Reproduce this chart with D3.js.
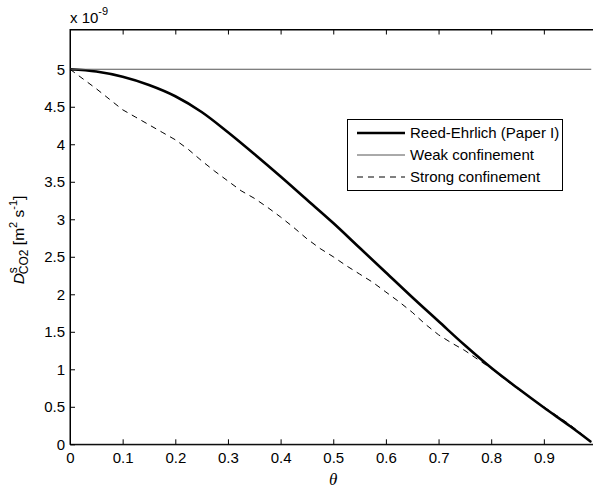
<!DOCTYPE html>
<html>
<head>
<meta charset="utf-8">
<script src="https://cdn.jsdelivr.net/npm/d3@7"></script>
<style>
  html, body { margin: 0; padding: 0; background: #fff; }
  svg { display: block; }
  text { font-family: "Liberation Sans", Arial, sans-serif; fill: #000; }
</style>
</head>
<body>
<svg id="chart" width="593" height="489"></svg>
<script>
// Surface diffusivity of CO2 versus coverage (values in units of 1e-9 m^2/s)
const thetaReed = [0, 0.05, 0.1, 0.15, 0.2, 0.25, 0.3, 0.35, 0.4, 0.45, 0.5, 0.55, 0.6, 0.65, 0.7, 0.75, 0.8, 0.85, 0.9, 0.95, 0.99];
const reedEhrlich = [5.0, 4.97, 4.90, 4.79, 4.64, 4.43, 4.16, 3.87, 3.57, 3.26, 2.95, 2.62, 2.29, 1.96, 1.64, 1.32, 1.02, 0.75, 0.49, 0.24, 0.03];

const thetaWeak = [0, 0.99];
const weakConfinement = [5.0, 5.0];

const thetaStrong = [0, 0.025, 0.05, 0.075, 0.1, 0.125, 0.15, 0.175, 0.2, 0.225, 0.25, 0.275, 0.3, 0.325, 0.35, 0.375, 0.4, 0.425, 0.45, 0.475, 0.5, 0.525, 0.55, 0.575, 0.6, 0.625, 0.65, 0.675, 0.7, 0.725, 0.75, 0.775, 0.8, 0.825, 0.85, 0.875, 0.9, 0.925, 0.95, 0.975, 0.99];
const strongConfinement = [5.0, 4.87, 4.74, 4.6, 4.46, 4.36, 4.26, 4.16, 4.06, 3.93, 3.78, 3.64, 3.51, 3.38, 3.28, 3.16, 3.03, 2.89, 2.74, 2.61, 2.5, 2.38, 2.27, 2.16, 2.03, 1.9, 1.76, 1.6, 1.46, 1.35, 1.25, 1.13, 1.01, 0.87, 0.74, 0.62, 0.5, 0.38, 0.26, 0.12, 0.03];

const xTicks = [0, 0.1, 0.2, 0.3, 0.4, 0.5, 0.6, 0.7, 0.8, 0.9];
const yTicks = [0, 0.5, 1, 1.5, 2, 2.5, 3, 3.5, 4, 4.5, 5];
const legendLabels = ["Reed-Ehrlich (Paper I)", "Weak confinement", "Strong confinement"];

const svg = d3.select("#chart");
const plotLeft = 70, plotRight = 596.5, plotTop = 29.5, plotBottom = 444.3;

const x = d3.scaleLinear().domain([0, 1]).range([plotLeft, plotRight]);
const y = d3.scaleLinear().domain([0, 5.53]).range([plotBottom, plotTop]);
const fmt = d => d3.format("~g")(d);

// plot frame
svg.append("rect")
  .attr("x", plotLeft).attr("y", plotTop)
  .attr("width", plotRight - plotLeft).attr("height", plotBottom - plotTop)
  .attr("fill", "none").attr("stroke", "#000").attr("stroke-width", 1);

// axes with inward ticks
const xAxis = svg.append("g").attr("transform", `translate(0,${plotBottom})`)
  .call(d3.axisBottom(x).tickValues(xTicks).tickFormat(fmt).tickSizeInner(-5).tickSizeOuter(0).tickPadding(8));
const xTop = svg.append("g").attr("transform", `translate(0,${plotTop})`)
  .call(d3.axisTop(x).tickValues(xTicks).tickFormat("").tickSizeInner(-5).tickSizeOuter(0));
const yAxis = svg.append("g").attr("transform", `translate(${plotLeft},0)`)
  .call(d3.axisLeft(y).tickValues(yTicks).tickFormat(fmt).tickSizeInner(-5).tickSizeOuter(0).tickPadding(5));

[xAxis, xTop, yAxis].forEach(g => {
  g.select(".domain").attr("stroke", "#000");
  g.selectAll(".tick line").attr("stroke", "#000");
  g.selectAll("text").style("font-family", "'Liberation Sans', Arial, sans-serif").attr("font-size", 15).attr("fill", "#000");
});

// curves
const line = d3.line().x(d => x(d[0])).y(d => y(d[1]));
const series = [
  { t: thetaReed, v: reedEhrlich, width: 2.6, color: "#000", dash: null, curve: d3.curveMonotoneX },
  { t: thetaWeak, v: weakConfinement, width: 1, color: "#555", dash: null, curve: d3.curveLinear },
  { t: thetaStrong, v: strongConfinement, width: 1, color: "#000", dash: "6,5", curve: d3.curveLinear }
];
series.forEach(s => {
  svg.append("path")
    .datum(s.t.map((t, i) => [t, s.v[i]]))
    .attr("d", line.curve(s.curve))
    .attr("fill", "none")
    .attr("stroke", s.color)
    .attr("stroke-width", s.width)
    .attr("stroke-dasharray", s.dash);
});

// legend
const lg = svg.append("g");
lg.append("rect").attr("x", 347.5).attr("y", 119.5).attr("width", 215).attr("height", 71)
  .attr("fill", "#fff").attr("stroke", "#000").attr("stroke-width", 1);
legendLabels.forEach((lab, i) => {
  const yy = 133 + i * 22;
  const s = series[i];
  lg.append("line").attr("x1", 357).attr("x2", 405).attr("y1", yy).attr("y2", yy)
    .attr("stroke", s.color).attr("stroke-width", s.width).attr("stroke-dasharray", s.dash);
  lg.append("text").attr("x", 410).attr("y", yy).attr("dy", "0.36em")
    .attr("font-size", 15).text(lab);
});

// exponent label
const ex = svg.append("text").attr("x", 70).attr("y", 23).attr("font-size", 15);
ex.append("tspan").text("x 10");
ex.append("tspan").attr("dy", -8).attr("font-size", 11).text("-9");

// axis titles
svg.append("text").attr("x", x(0.5)).attr("y", 485)
  .attr("text-anchor", "middle")
  .style("font-family", "'Liberation Serif', 'Times New Roman', serif")
  .style("font-style", "italic").attr("font-size", 17).text("θ");

const yl = svg.append("text")
  .attr("transform", "translate(24,240) rotate(-90)")
  .attr("text-anchor", "middle").attr("font-size", 15.5);
yl.append("tspan").style("font-style", "italic").text("D");
yl.append("tspan").attr("dy", -7).attr("font-size", 12).text("s");
yl.append("tspan").attr("dx", -7).attr("dy", 11).attr("font-size", 12).text("CO2");
yl.append("tspan").attr("dy", -4).text(" [m");
yl.append("tspan").attr("dy", -7).attr("font-size", 11).text("2");
yl.append("tspan").attr("dy", 7).text(" s");
yl.append("tspan").attr("dy", -7).attr("font-size", 11).text("-1");
yl.append("tspan").attr("dy", 7).text("]");
</script>
</body>
</html>
